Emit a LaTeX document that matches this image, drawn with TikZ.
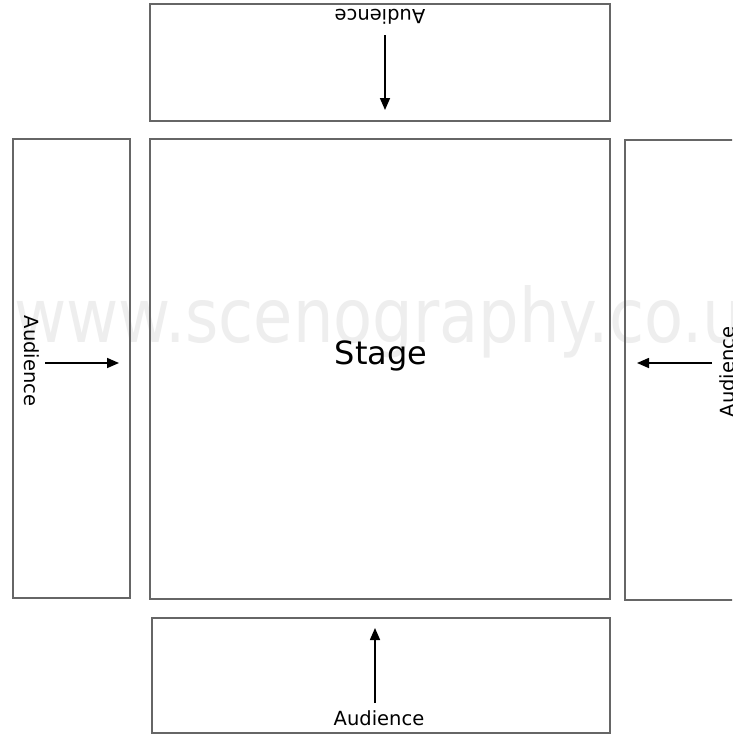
\documentclass[tikz,border=0pt]{standalone}
\usepackage{fontspec}
\setmainfont{DejaVu Sans}
\usetikzlibrary{arrows.meta}
\definecolor{boxgray}{HTML}{666666}
\definecolor{wmgray}{HTML}{EEEEEE}
\tikzset{
  area/.style={draw=boxgray, line width=1.6pt},
  aud/.style={inner sep=0pt, font=\fontsize{19.5}{19.5}\selectfont},
  arr/.style={line width=1.6pt, -{Triangle[length=12pt,width=10pt]}},
}
\begin{document}
\begin{tikzpicture}[x=1pt,y=-1pt]
\clip (0,0) rectangle (732,734);
\fill[white] (0,0) rectangle (732,734);
% watermark
\node[inner sep=0pt, text=wmgray, font=\fontsize{75}{75}\selectfont, xscale=0.852, anchor=base] (wm) at (397,342) {www.scenography.co.uk};
% boxes
\draw[area] (150,4) rectangle (610,121);
\draw[area] (150,139) rectangle (610,599);
\draw[area] (13,139) rectangle (130,598);
\draw[area] (625,140) rectangle (760,600);
\draw[area] (152,618) rectangle (610,733);
\node[font=\fontsize{32}{32}\selectfont, inner sep=0pt] (stage) at (381,356) {Stage};
% labels
\node[aud, rotate=180] (ta) at (380,17) {Audience};
\node[aud] (ba) at (379,718) {Audience};
\node[aud, rotate=-90] (la) at (32,361) {Audience};
\node[aud, rotate=90] (ra) at (727,372) {Audience};
% arrow endpoints
\coordinate (t1) at (385,35); \coordinate (t2) at (385,110);
\coordinate (b1) at (375,703); \coordinate (b2) at (375,628);
\coordinate (l1) at (45,363); \coordinate (l2) at (119,363);
\coordinate (r1) at (712,363); \coordinate (r2) at (637,363);
\draw[arr] (t1) -- (t2);
\draw[arr] (b1) -- (b2);
\draw[arr] (l1) -- (l2);
\draw[arr] (r1) -- (r2);
\end{tikzpicture}
\end{document}
